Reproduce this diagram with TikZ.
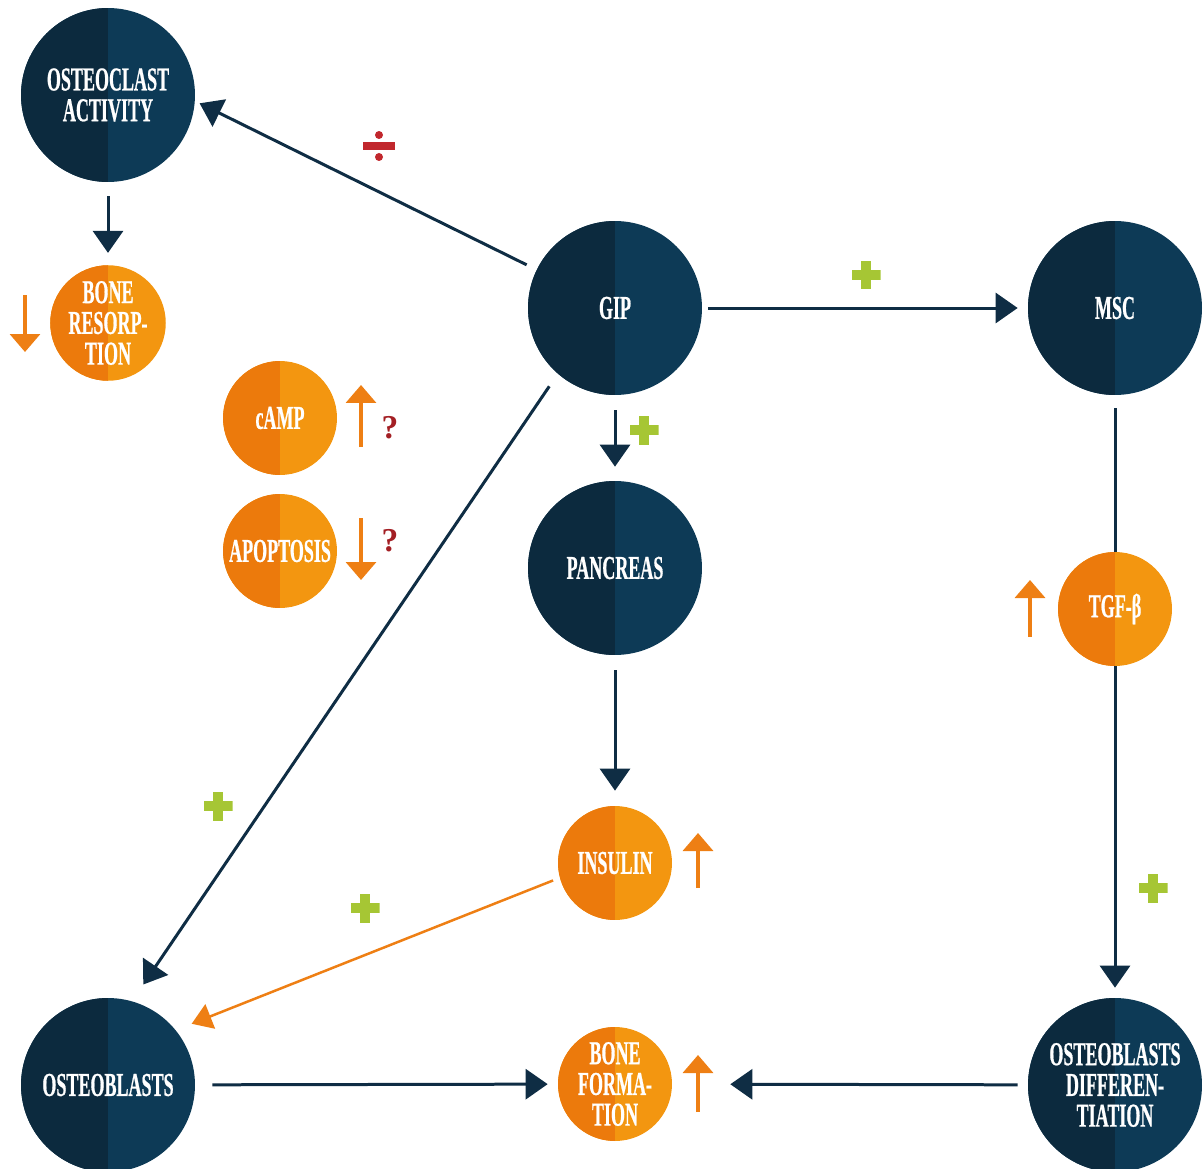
\documentclass[tikz,border=0pt]{standalone}
\usepackage{fontspec}
\usepackage{xcolor}
\usepackage{tikz}
\usetikzlibrary{arrows.meta}
\setmainfont{Liberation Serif}
\newfontfamily\narrowserif{Liberation Serif}[FakeStretch=0.54, FakeBold=0.6]

\definecolor{navyleft}{RGB}{12,42,62}
\definecolor{navyright}{RGB}{13,58,86}
\definecolor{navyline}{RGB}{15,45,68}
\definecolor{orangeleft}{RGB}{236,122,12}
\definecolor{orangeright}{RGB}{243,150,16}
\definecolor{orangeline}{RGB}{238,127,20}
\definecolor{plusgreen}{RGB}{166,198,52}
\definecolor{minusred}{RGB}{193,39,45}
\definecolor{askred}{RGB}{163,31,36}

\tikzset{
  halves/.style 2 args={circle, fill=#2, inner sep=0pt, text=white, align=center,
    font=\narrowserif\bfseries\fontsize{19}{17.5}\selectfont,
    path picture={\fill[#1] (path picture bounding box.south west) rectangle (path picture bounding box.north);}},
  bigball/.style={halves={navyleft}{navyright}, minimum size=3.48cm},
  smallball/.style={halves={orangeleft}{orangeright}, minimum size=2.28cm},
  link/.style={line width=0.06cm, draw=navyline, -{Triangle[width=0.6cm,length=0.44cm]}},
  orangelink/.style={line width=0.05cm, draw=orangeline, -{Triangle[width=0.52cm,length=0.4cm]}},
  trend/.style={line width=0.07cm, draw=orangeline, -{Triangle[width=0.6cm,length=0.36cm]}},
  plusmark/.style={minimum size=0.58cm, inner sep=0pt,
    path picture={
      \fill[plusgreen] ([yshift=-0.1cm]path picture bounding box.west) rectangle ([yshift=0.1cm]path picture bounding box.east);
      \fill[plusgreen] ([xshift=-0.1cm]path picture bounding box.south) rectangle ([xshift=0.1cm]path picture bounding box.north);}},
  divmark/.style={minimum width=0.64cm, minimum height=0.6cm, inner sep=0pt,
    path picture={
      \fill[minusred] ([yshift=-0.08cm]path picture bounding box.west) rectangle ([yshift=0.08cm]path picture bounding box.east);
      \fill[minusred] ([yshift=-0.08cm]path picture bounding box.north) circle (0.08cm);
      \fill[minusred] ([yshift=0.08cm]path picture bounding box.south) circle (0.08cm);}},
  askmark/.style={text=askred, font=\bfseries\fontsize{19}{19}\selectfont, inner sep=0pt}
}

\begin{document}
\begin{tikzpicture}[x=0.02cm, y=-0.02cm]
            \useasboundingbox (0,0) rectangle (1203,1169);

            \node[bigball] (osteoclast) at (108,95) {OSTEOCLAST\\ACTIVITY};
            \node[smallball] (resorption) at (108,323) {BONE\\RESORP-\\TION};
            \node[bigball] (gip) at (615,308) {GIP};
            \node[bigball] (msc) at (1115,308) {MSC};
            \node[smallball] (camp) at (280,418) {cAMP};
            \node[smallball] (apoptosis) at (280,551) {APOPTOSIS};
            \node[bigball] (pancreas) at (615,568) {PANCREAS};
            \node[smallball] (tgf) at (1115,609) {TGF-β};
            \node[smallball] (insulin) at (615,863) {INSULIN};
            \node[bigball] (osteoblasts) at (108,1085) {OSTEOBLASTS};
            \node[smallball] (formation) at (615,1084) {BONE\\FORMA-\\TION};
            \node[bigball] (differentiation) at (1115,1085) {OSTEOBLASTS\\DIFFEREN-\\TIATION};

            \draw[link, shorten <=0.28cm, shorten >=0.24cm] (osteoclast) -- (resorption);
            \draw[link, shorten <=0.22cm, shorten >=0.1cm] (gip.154) -- (osteoclast.-4);
            \draw[link, shorten <=0.12cm, shorten >=0.2cm] (gip) -- (msc);
            \draw[link, shorten <=0.3cm, shorten >=0.28cm] (gip) -- (pancreas);
            \draw[link, shorten <=0.3cm, shorten >=0.4cm] (gip.229) -- (osteoblasts.74);
            \draw[link, shorten <=0.3cm, shorten >=0.3cm] (pancreas) -- (insulin);
            \draw[orangelink, shorten <=0.14cm, shorten >=0.34cm] (insulin.195) -- (osteoblasts.39);
            \draw[line width=0.06cm, draw=navyline, shorten <=0.26cm] (msc) -- (tgf);
            \draw[link, shorten >=0.2cm] (tgf) -- (differentiation);
            \draw[link, shorten <=0.34cm, shorten >=0.2cm] (osteoblasts) -- (formation);
            \draw[link, shorten <=0.2cm, shorten >=1.16cm] (differentiation) -- (formation);

            \draw[trend] (25,295) -- (25,352);
            \draw[trend] (361,447) -- (361,385);
            \draw[trend] (361,518) -- (361,580);
            \draw[trend] (1030,637) -- (1030,580);
            \draw[trend] (698,888) -- (698,833);
            \draw[trend] (698,1112) -- (698,1055);

            \node[askmark] (ask1) at (390,428) {?};
            \node[askmark] (ask2) at (390,541) {?};

            \node[divmark] (minus1) at (379,146) {};
            \node[plusmark] (plus1) at (866,275) {};
            \node[plusmark] (plus2) at (644,430) {};
            \node[plusmark] (plus3) at (218,806) {};
            \node[plusmark] (plus4) at (365,908) {};
            \node[plusmark] (plus5) at (1153,888) {};
        \end{tikzpicture}
\end{document}
